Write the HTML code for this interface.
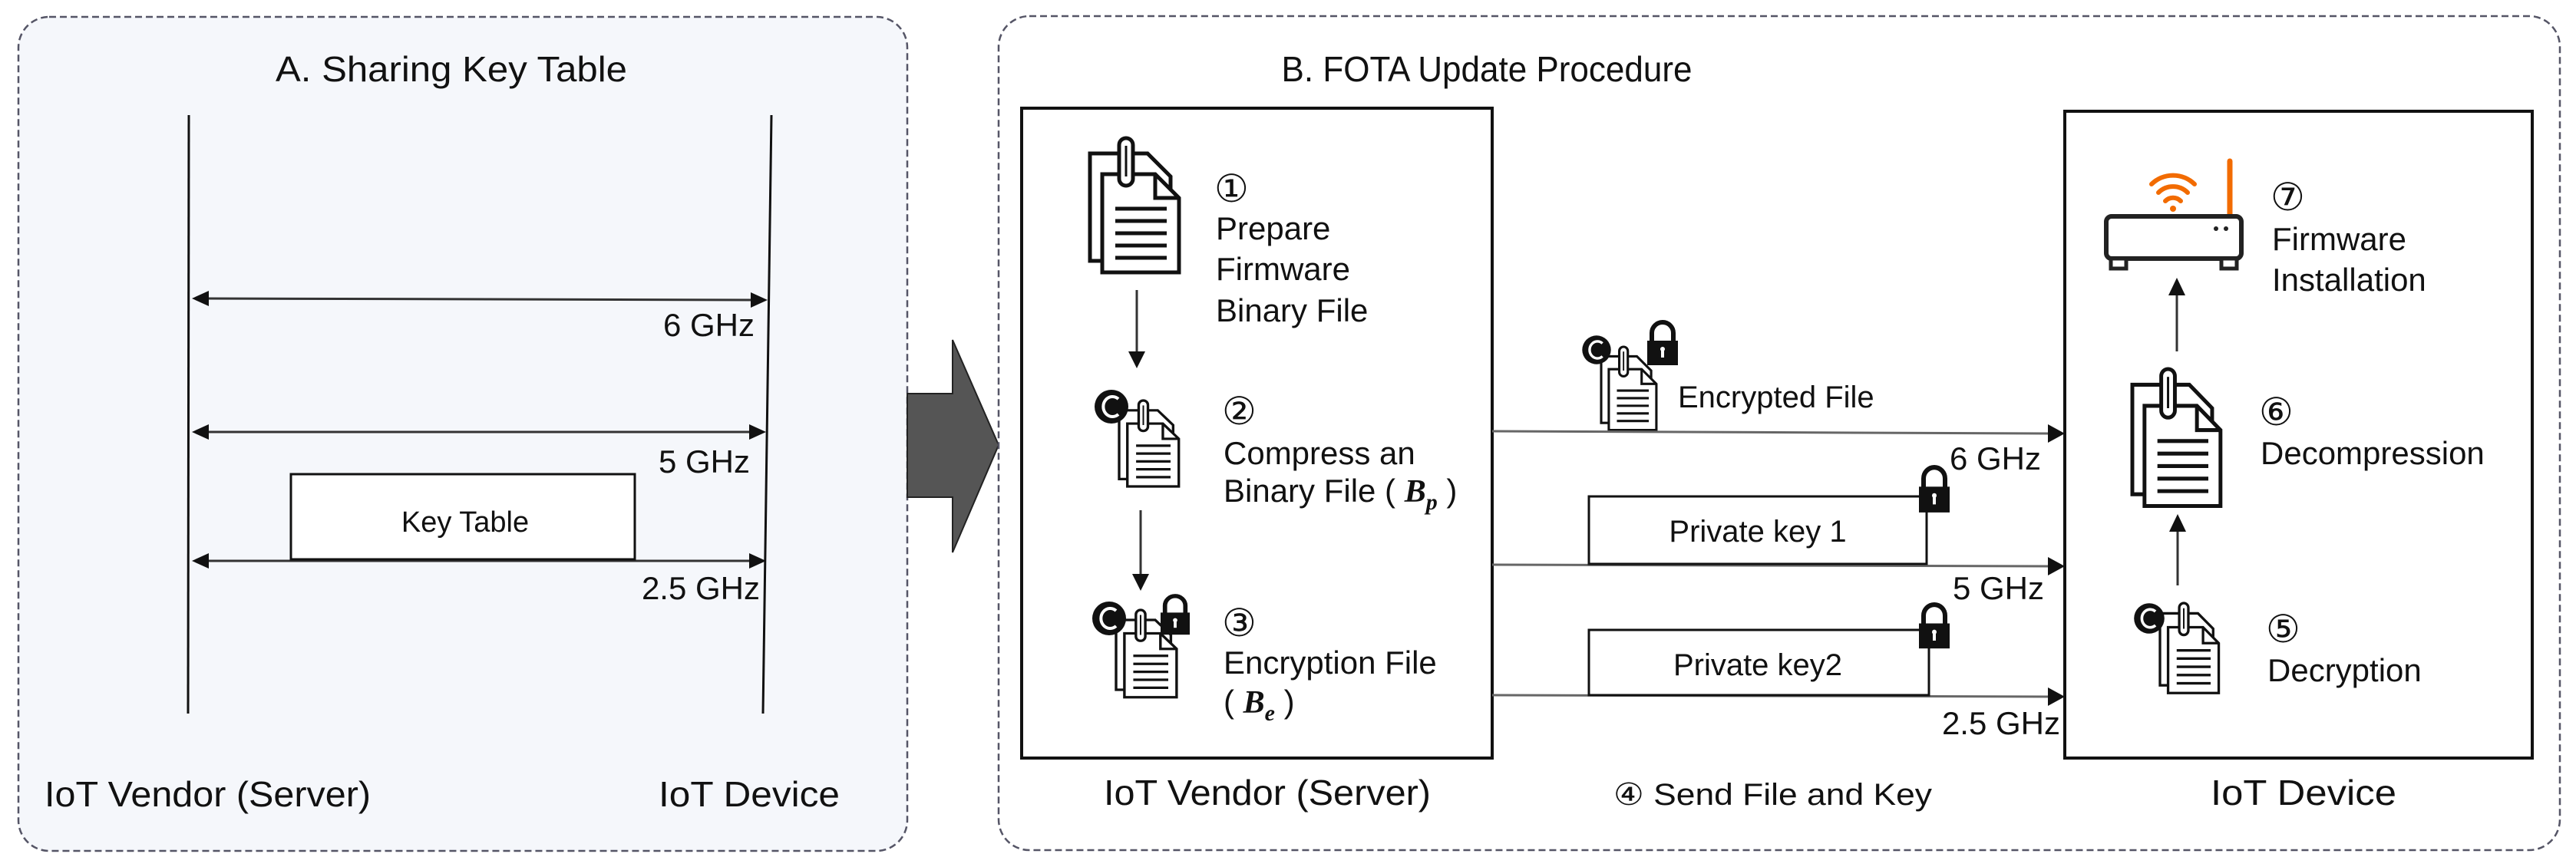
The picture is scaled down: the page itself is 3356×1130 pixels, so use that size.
<!DOCTYPE html>
<html><head><meta charset="utf-8"><style>
html,body{margin:0;padding:0;background:#fff;}
svg{display:block;}
text{font-family:"Liberation Sans","NanumGothic",sans-serif;fill:#111;}
</style></head><body>
<svg width="3356" height="1130" viewBox="0 0 3356 1130" xmlns="http://www.w3.org/2000/svg">
<defs>
  <g id="doc">
    <path d="M0,20 H75 L105,50 V160 H0 Z" fill="#fff" stroke="#111" stroke-width="5"/>
    <path d="M16,47 H85 L116,78 V175 H16 Z" fill="#fff" stroke="#111" stroke-width="5"/>
    <path d="M85,47 V78 H116" fill="none" stroke="#111" stroke-width="5"/>
    <g stroke="#111" stroke-width="5">
      <line x1="33" y1="92" x2="100" y2="92"/>
      <line x1="33" y1="108" x2="100" y2="108"/>
      <line x1="33" y1="124" x2="100" y2="124"/>
      <line x1="33" y1="140" x2="100" y2="140"/>
      <line x1="33" y1="156" x2="100" y2="156"/>
    </g>
    <rect x="38" y="0" width="18" height="62" rx="9" fill="#fff" stroke="#111" stroke-width="5"/>
    <line x1="47" y1="10" x2="47" y2="50" stroke="#111" stroke-width="3"/>
  </g>
  <g id="cbadge">
    <circle cx="0" cy="0" r="22" fill="#111"/>
    <path d="M9,-10 A12,13 0 1 0 9,10" fill="none" stroke="#fff" stroke-width="4"/>
  </g>
  <g id="lock">
    <path d="M6,28 V16 A14,14 0 0 1 34,16 V28" fill="none" stroke="#111" stroke-width="6"/>
    <rect x="0" y="26" width="40" height="32" fill="#111"/>
    <rect x="18" y="36" width="4" height="12" fill="#fff"/>
    <circle cx="20" cy="37" r="3" fill="#fff"/>
  </g>
</defs>

<!-- Panel A -->
<rect x="24" y="22" width="1158" height="1087" rx="40" fill="#f5f7fb" stroke="#556" stroke-width="2.5" stroke-dasharray="9,5"/>
<text x="359" y="106" font-size="46" textLength="458" lengthAdjust="spacingAndGlyphs">A. Sharing Key Table</text>
<line x1="246" y1="150" x2="245" y2="930" stroke="#111" stroke-width="3"/>
<line x1="1005" y1="150" x2="994" y2="930" stroke="#111" stroke-width="3"/>
<g stroke="#333" stroke-width="3">
  <line x1="262" y1="389" x2="985" y2="391"/>
  <line x1="262" y1="563" x2="985" y2="563"/>
  <line x1="262" y1="731" x2="985" y2="731"/>
</g>
<g fill="#111">
  <polygon points="250,389 272,379 272,399"/><polygon points="1000,391 978,381 978,401"/>
  <polygon points="250,563 272,553 272,573"/><polygon points="998,563 976,553 976,573"/>
  <polygon points="250,731 272,721 272,741"/><polygon points="998,731 976,721 976,741"/>
</g>
<text x="983" y="438" font-size="42" text-anchor="end">6 GHz</text>
<text x="977" y="616" font-size="42" text-anchor="end">5 GHz</text>
<text x="990" y="781" font-size="42" text-anchor="end">2.5 GHz</text>
<rect x="379" y="618" width="448" height="111" fill="#fff" stroke="#111" stroke-width="3"/>
<text x="606" y="693" font-size="38" text-anchor="middle">Key Table</text>
<text x="58" y="1051" font-size="46" textLength="425" lengthAdjust="spacingAndGlyphs">IoT Vendor (Server)</text>
<text x="858" y="1051" font-size="46" textLength="236" lengthAdjust="spacingAndGlyphs">IoT Device</text>

<!-- Big arrow -->
<polygon points="1182,513 1241,513 1241,443 1301,580 1241,720 1241,648 1182,648" fill="#555" stroke="#222" stroke-width="2"/>

<!-- Panel B -->
<rect x="1301" y="21" width="2034" height="1087" rx="40" fill="#fff" stroke="#556" stroke-width="2.5" stroke-dasharray="9,5"/>
<text x="1937" y="106" font-size="46" text-anchor="middle" textLength="535" lengthAdjust="spacingAndGlyphs">B. FOTA Update Procedure</text>

<!-- Server box -->
<rect x="1331" y="141" width="613" height="847" fill="#fff" stroke="#111" stroke-width="4"/>
<use href="#doc" transform="translate(1420,180)"/>
<text x="1582" y="263" font-size="50">①</text>
<text x="1584" y="312" font-size="42">Prepare</text>
<text x="1584" y="365" font-size="42">Firmware</text>
<text x="1584" y="419" font-size="42">Binary File</text>
<line x1="1481" y1="378" x2="1481" y2="462" stroke="#333" stroke-width="3"/>
<polygon points="1481,480 1470,458 1492,458" fill="#111"/>
<use href="#doc" transform="translate(1458,522) scale(0.67,0.64)"/>
<use href="#cbadge" transform="translate(1448,530)"/>
<text x="1592" y="553" font-size="50">②</text>
<text x="1594" y="605" font-size="42">Compress an</text>
<text x="1594" y="654" font-size="42">Binary File ( <tspan font-family="Liberation Serif" font-weight="bold" font-style="italic">B</tspan><tspan font-family="Liberation Serif" font-weight="bold" font-style="italic" font-size="30" dy="10">p</tspan><tspan dy="-10"> )</tspan></text>
<line x1="1486" y1="665" x2="1486" y2="752" stroke="#333" stroke-width="3"/>
<polygon points="1486,770 1475,748 1497,748" fill="#111"/>
<use href="#doc" transform="translate(1454,795) scale(0.68,0.65)"/>
<use href="#cbadge" transform="translate(1445,806)"/>
<use href="#lock" transform="translate(1512,775) scale(0.95,0.9)"/>
<text x="1592" y="829" font-size="50">③</text>
<text x="1594" y="878" font-size="42">Encryption File</text>
<text x="1594" y="929" font-size="42">( <tspan font-family="Liberation Serif" font-weight="bold" font-style="italic">B</tspan><tspan font-family="Liberation Serif" font-weight="bold" font-style="italic" font-size="30" dy="10">e</tspan><tspan dy="-10"> )</tspan></text>

<!-- Middle transfers -->
<use href="#doc" transform="translate(2086,452) scale(0.62,0.62)"/>
<use href="#cbadge" transform="translate(2080,456) scale(0.85)"/>
<use href="#lock" transform="translate(2146,418)"/>
<text x="2186" y="531" font-size="40">Encrypted File</text>
<g stroke="#666" stroke-width="3">
  <line x1="1944" y1="562" x2="2670" y2="565"/>
  <line x1="1944" y1="736" x2="2670" y2="738"/>
  <line x1="1944" y1="906" x2="2670" y2="908"/>
</g>
<g fill="#111">
  <polygon points="2690,565 2668,553 2668,577"/>
  <polygon points="2690,738 2668,726 2668,750"/>
  <polygon points="2690,908 2668,896 2668,920"/>
</g>
<text x="2659" y="612" font-size="42" text-anchor="end">6 GHz</text>
<text x="2663" y="781" font-size="42" text-anchor="end">5 GHz</text>
<text x="2684" y="957" font-size="42" text-anchor="end">2.5 GHz</text>
<rect x="2070" y="647" width="440" height="88" fill="#fff" stroke="#111" stroke-width="3"/>
<text x="2290" y="706" font-size="40" text-anchor="middle">Private key 1</text>
<use href="#lock" transform="translate(2500,607) scale(1,1.05)"/>
<rect x="2070" y="821" width="443" height="85" fill="#fff" stroke="#111" stroke-width="3"/>
<text x="2290" y="880" font-size="40" text-anchor="middle">Private key2</text>
<use href="#lock" transform="translate(2500,786) scale(1,1.02)"/>

<!-- Device box -->
<rect x="2690" y="145" width="609" height="843" fill="#fff" stroke="#111" stroke-width="4"/>
<line x1="2905" y1="210" x2="2905" y2="282" stroke="#f26b00" stroke-width="7" stroke-linecap="round"/>
<rect x="2744" y="282" width="176" height="55" rx="7" fill="#fff" stroke="#222" stroke-width="6"/>
<rect x="2750" y="337" width="20" height="13" fill="#fff" stroke="#222" stroke-width="5"/>
<rect x="2894" y="337" width="20" height="13" fill="#fff" stroke="#222" stroke-width="5"/>
<circle cx="2887" cy="298" r="3" fill="#222"/><circle cx="2900" cy="298" r="3" fill="#222"/>
<g fill="none" stroke="#f26b00" stroke-width="6" stroke-linecap="round">
  <path d="M2803,240 A40,40 0 0 1 2859,240"/>
  <path d="M2812,251 A27,27 0 0 1 2850,251"/>
  <path d="M2821,262 A14,14 0 0 1 2841,262"/>
</g>
<circle cx="2831" cy="272" r="4" fill="#f26b00"/>
<text x="2958" y="274" font-size="50">⑦</text>
<text x="2960" y="326" font-size="42">Firmware</text>
<text x="2960" y="379" font-size="42">Installation</text>
<line x1="2836" y1="458" x2="2836" y2="380" stroke="#333" stroke-width="3"/>
<polygon points="2836,362 2825,385 2847,385" fill="#111"/>
<use href="#doc" transform="translate(2778,481) scale(0.99,1.02)"/>
<text x="2943" y="554" font-size="50">⑥</text>
<text x="2945" y="605" font-size="42">Decompression</text>
<line x1="2837" y1="763" x2="2837" y2="690" stroke="#333" stroke-width="3"/>
<polygon points="2837,670 2826,693 2848,693" fill="#111"/>
<use href="#doc" transform="translate(2814,786) scale(0.66,0.67)"/>
<use href="#cbadge" transform="translate(2800,806) scale(0.9)"/>
<text x="2952" y="837" font-size="50">⑤</text>
<text x="2954" y="888" font-size="42">Decryption</text>

<!-- bottom labels -->
<text x="1438" y="1049" font-size="46" textLength="426" lengthAdjust="spacingAndGlyphs">IoT Vendor (Server)</text>
<text x="2102" y="1049" font-size="40" textLength="415" lengthAdjust="spacingAndGlyphs">④ Send File and Key</text>
<text x="2880" y="1049" font-size="46" textLength="242" lengthAdjust="spacingAndGlyphs">IoT Device</text>
</svg>
</body></html>
